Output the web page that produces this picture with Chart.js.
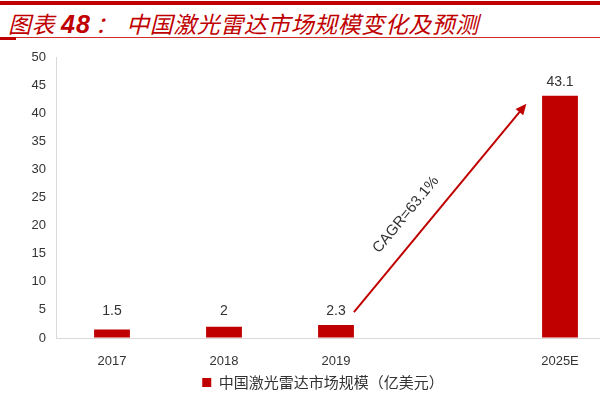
<!DOCTYPE html>
<html>
<head>
<meta charset="utf-8">
<script src="https://cdn.jsdelivr.net/npm/chart.js@4"></script>
<style>
  html, body { margin: 0; padding: 0; background: #fff; }
  #wrap { position: relative; width: 600px; height: 400px; overflow: hidden; }
  #topline { position: absolute; left: 0; top: 1px; width: 600px; height: 4px; background: #c00000; }
  #title { position: absolute; left: 8px; top: 6px; font-family: "Noto Sans CJK SC", sans-serif;
           font-size: 23px; font-style: italic; color: #c00000; letter-spacing: 0.5px; white-space: nowrap; }
  #title b { font-family: "Liberation Sans", Arial, sans-serif; font-weight: bold; font-size: 25px;
             letter-spacing: 1px; margin: 0 4px 0 6px; }
  #title .colon { margin-right: 8px; }
  #underline { position: absolute; left: 0; top: 37px; width: 600px; height: 1px; background: #d42a2a; }
  #undermark { position: absolute; left: 0; top: 37px; width: 16px; height: 3px; background: #c00000; }
  #cv { position: absolute; left: 0; top: 0; }
</style>
</head>
<body>
<div id="wrap">
  <div id="topline"></div>
  <div id="title">图表<b>48</b><span class="colon">：</span>中国激光雷达市场规模变化及预测</div>
  <div id="underline"></div>
  <div id="undermark"></div>
  <canvas id="cv" width="652" height="400" style="width:652px;height:400px"></canvas>
</div>
<script>
// data
var years = ['2017', '2018', '2019', '', '2025E'];
var market = [1.5, 2, 2.3, null, 43.1];
var valueLabels = ['1.5', '2', '2.3', '', '43.1'];
var seriesName = '中国激光雷达市场规模（亿美元）';
var cagrText = 'CAGR=63.1%';
// arrow ends in axis units (category index, value)
var arrowFrom = [2.16, 4.6];
var arrowTo = [3.70, 41.7];

var red = '#c00000';

// numbers above the bars
var barLabels = {
    id: 'barLabels',
    afterDatasetsDraw: function (chart) {
        var ctx = chart.ctx;
        var meta = chart.getDatasetMeta(0);
        ctx.save();
        ctx.font = '14px "Liberation Sans", Arial, sans-serif';
        ctx.fillStyle = '#333333';
        ctx.textAlign = 'center';
        ctx.textBaseline = 'middle';
        meta.data.forEach(function (bar, i) {
            if (market[i] == null) return;
            var y = Math.min(bar.y, chart.scales.y.getPixelForValue(2.3));
            ctx.fillText(valueLabels[i], bar.x, y - 14);
        });
        ctx.restore();
    }
};

// growth arrow + CAGR text
var cagrArrow = {
    id: 'cagrArrow',
    afterDatasetsDraw: function (chart) {
        var ctx = chart.ctx;
        var xs = chart.scales.x, ys = chart.scales.y;
        var x1 = xs.getPixelForValue(arrowFrom[0]), y1 = ys.getPixelForValue(arrowFrom[1]);
        var x2 = xs.getPixelForValue(arrowTo[0]), y2 = ys.getPixelForValue(arrowTo[1]);
        var ang = Math.atan2(y2 - y1, x2 - x1);
        ctx.save();
        ctx.strokeStyle = red;
        ctx.fillStyle = red;
        ctx.lineWidth = 2;
        ctx.beginPath();
        ctx.moveTo(x1, y1);
        ctx.lineTo(x2 - 8 * Math.cos(ang), y2 - 8 * Math.sin(ang));
        ctx.stroke();
        ctx.beginPath();
        ctx.moveTo(x2, y2);
        ctx.lineTo(x2 - 11 * Math.cos(ang) + 5 * Math.sin(ang), y2 - 11 * Math.sin(ang) - 5 * Math.cos(ang));
        ctx.lineTo(x2 - 11 * Math.cos(ang) - 5 * Math.sin(ang), y2 - 11 * Math.sin(ang) + 5 * Math.cos(ang));
        ctx.closePath();
        ctx.fill();
        // text sits a bit above the line
        var t = 0.40;
        var mx = x1 + (x2 - x1) * t, my = y1 + (y2 - y1) * t;
        var px = mx + 22 * Math.sin(ang), py = my - 22 * Math.cos(ang);
        ctx.translate(px, py);
        ctx.rotate(ang);
        ctx.font = '15px "Liberation Sans", Arial, sans-serif';
        ctx.fillStyle = '#333333';
        ctx.textAlign = 'center';
        ctx.textBaseline = 'middle';
        ctx.fillText(cagrText, 0, 0);
        ctx.restore();
    }
};

new Chart(document.getElementById('cv'), {
    type: 'bar',
    data: {
        labels: years,
        datasets: [{
            label: seriesName,
            data: market,
            backgroundColor: red,
            borderWidth: 0,
            categoryPercentage: 1,
            barPercentage: 0.32
        }]
    },
    options: {
        responsive: false,
        animation: false,
        layout: { padding: { left: 30, right: 36, top: 57, bottom: 0 } },
        plugins: {
            legend: {
                position: 'bottom',
                labels: {
                    boxWidth: 9,
                    boxHeight: 9,
                    padding: 10,
                    color: '#333333',
                    font: { family: '"Noto Sans CJK SC", sans-serif', size: 15 }
                }
            },
            tooltip: { enabled: false }
        },
        scales: {
            x: {
                grid: { display: false },
                border: { color: '#d9d9d9', width: 1 },
                ticks: {
                    color: '#333333',
                    padding: 8,
                    font: { family: '"Liberation Sans", Arial, sans-serif', size: 13 }
                },
                afterFit: function (s) { s.height = 27; }
            },
            y: {
                min: 0,
                max: 50,
                grid: { drawOnChartArea: false, drawTicks: false },
                border: { color: '#d9d9d9', width: 1 },
                ticks: {
                    stepSize: 5,
                    padding: 10,
                    color: '#333333',
                    font: { family: '"Liberation Sans", Arial, sans-serif', size: 13 }
                },
                afterFit: function (s) { s.width = 26; }
            }
        }
    },
    plugins: [barLabels, cagrArrow]
});
</script>
</body>
</html>
